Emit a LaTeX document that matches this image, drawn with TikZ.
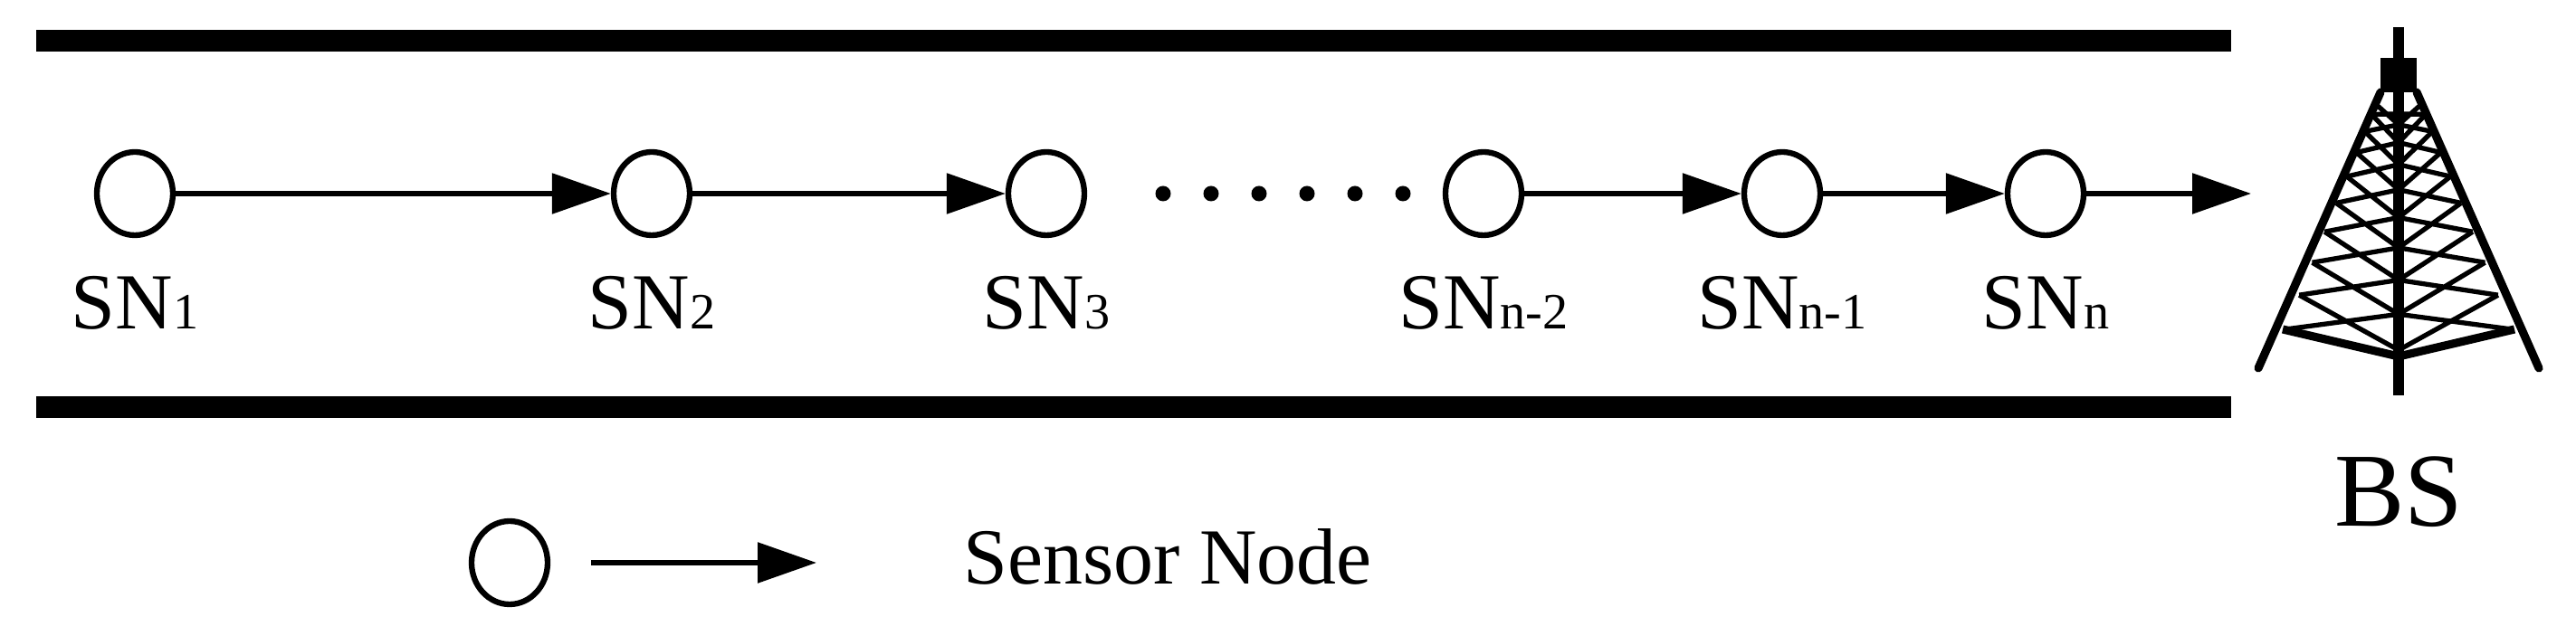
\documentclass[tikz,border=0pt]{standalone}
\usepackage{fontspec}
\setmainfont{Liberation Serif}
\usetikzlibrary{arrows.meta,shapes.geometric,calc}
\tikzset{
	sn/.style={ellipse, draw, line width=1.8pt, minimum width=0.84cm, minimum height=0.92cm, inner sep=0pt},
	lbl/.style={font=\fontsize{25}{28}\selectfont, anchor=base},
	hop/.style={line width=1.6pt, -{Triangle[length=0.65cm, width=0.44cm]}},
	bar/.style={line width=0.24cm},
	leg/.style={line width=2.6pt, line cap=round}
}
\newcommand{\sub}[1]{{\fontsize{16}{18}\selectfont #1}}
\begin{document}
\begin{tikzpicture}
	\useasboundingbox (0,0) rectangle (28.46,6.82);
	% road
	\draw[bar] (0.40,6.37) -- (24.65,6.37);
	\draw[bar] (0.40,2.32) -- (24.65,2.32);
	% sensor nodes
	\node[sn](n1) at (1.49,4.68) {};
	\node[sn](n2) at (7.20,4.68) {};
	\node[sn](n3) at (11.56,4.68) {};
	\node[sn](n4) at (16.39,4.68) {};
	\node[sn](n5) at (19.69,4.68) {};
	\node[sn](n6) at (22.60,4.68) {};
	\coordinate (bs) at (24.87,4.68);
	\node[lbl] at (1.49,3.18) {SN\sub{1}};
	\node[lbl] at (7.20,3.18) {SN\sub{2}};
	\node[lbl] at (11.56,3.18) {SN\sub{3}};
	\node[lbl] at (16.39,3.18) {SN\sub{n-2}};
	\node[lbl] at (19.69,3.18) {SN\sub{n-1}};
	\node[lbl] at (22.60,3.18) {SN\sub{n}};
	\draw[hop] (n1) -- (n2);
	\draw[hop] (n2) -- (n3);
	\draw[hop] (n4) -- (n5);
	\draw[hop] (n5) -- (n6);
	\draw[hop] (n6) -- (bs);
	\foreach \x in {12.85,13.38,13.91,14.44,14.97,15.50}
		\fill (\x,4.68) circle (0.085);
	% base station
	\draw[line width=3.5pt] (26.50,6.52) -- (26.50,2.45);
	\fill (26.30,5.80) rectangle (26.70,6.18);
	\draw[leg] (26.30,5.80) -- (24.95,2.75);
	\draw[leg] (26.70,5.80) -- (28.05,2.75);
	\foreach \i [evaluate=\i as \j using \i+1] in {0,...,8}{
		\pgfmathsetmacro{\ta}{0.05+0.95*(\i/9)^1.4}
		\pgfmathsetmacro{\tb}{0.05+0.95*(\j/9)^1.4}
		\draw[line width=1.5pt]
			($(26.30,5.80)!\ta!(25.25,3.18)$) -- ($(26.50,5.70)!\tb!(26.50,2.95)$)
			($(26.30,5.80)!\tb!(25.25,3.18)$) -- ($(26.50,5.70)!\ta!(26.50,2.95)$)
			($(26.70,5.80)!\ta!(27.75,3.18)$) -- ($(26.50,5.70)!\tb!(26.50,2.95)$)
			($(26.70,5.80)!\tb!(27.75,3.18)$) -- ($(26.50,5.70)!\ta!(26.50,2.95)$);
	}
	\draw[line width=2.6pt] (25.22,3.18) -- (26.50,2.88) -- (27.78,3.18);
	\node[font=\fontsize{33}{36}\selectfont, anchor=base] at (26.50,1.00) {BS};
	% legend
	\node[sn](k1) at (5.63,0.60) {};
	\coordinate (k2) at (9.02,0.60);
	\draw[hop] ($(k1)+(0.90,0)$) -- (k2);
	\node[font=\fontsize{25}{28}\selectfont, anchor=base] at (12.90,0.36) {Sensor Node};
\end{tikzpicture}
\end{document}
